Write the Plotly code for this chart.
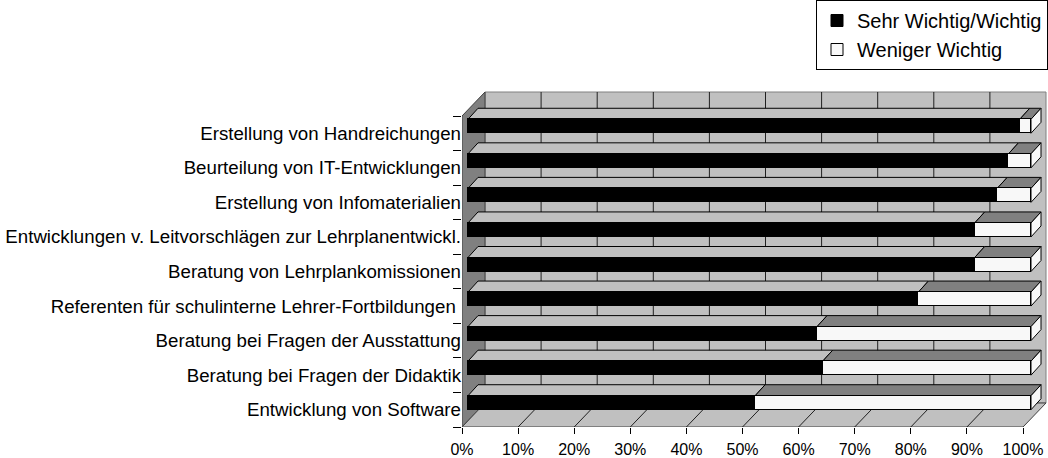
import plotly.graph_objects as go

# ---------------- data (top to bottom as displayed) ----------------
categories = [
    "Erstellung von Handreichungen",
    "Beurteilung von IT-Entwicklungen",
    "Erstellung von Infomaterialien",
    "Entwicklungen v. Leitvorschlägen zur Lehrplanentwickl.",
    "Beratung von Lehrplankomissionen",
    "Referenten für schulinterne Lehrer-Fortbildungen\u00a0",
    "Beratung bei Fragen der Ausstattung",
    "Beratung bei Fragen der Didaktik",
    "Entwicklung von Software",
]
sehr_wichtig = [98, 96, 94, 90, 90, 80, 62, 63, 51]
weniger_wichtig = [2, 4, 6, 10, 10, 20, 38, 37, 49]
series_names = ["Sehr Wichtig/Wichtig", "Weniger Wichtig"]
tick_values = [0, 10, 20, 30, 40, 50, 60, 70, 80, 90, 100]
tick_labels = ["0%", "10%", "20%", "30%", "40%", "50%", "60%", "70%", "80%", "90%", "100%"]

# ---------------- geometry / style ----------------
W, H = 1048, 458
L, R, T, B = 462, 1048, 88, 427
FONT = "Liberation Sans, Arial, sans-serif"
n = len(categories)
floor_px = 5.61          # px per percent on the floor front edge
bar_px = 5.63            # px per percent on the bar front faces
bar_x0_px = 468
cat_px = (B - 116) / n   # px per category
x_range = [0, (R - L) / floor_px]
x2_range = [(L - bar_x0_px) / bar_px, (R - bar_x0_px) / bar_px]
y_range = [-0.5, n - 0.5 + (116 - T) / cat_px]
wall_dx = 23 / floor_px
wall_dy = 24 / cat_px
bar_dx = 10 / bar_px
bar_dy = 11 / cat_px
bar_w = 14 / cat_px

order = list(reversed(categories))  # bottom-first for the category axis
total = [a + b for a, b in zip(sehr_wichtig, weniger_wichtig)]

shapes = []
lo, hi = -0.5, n - 0.5
# back wall
shapes.append(dict(type="rect", xref="x", yref="y", x0=wall_dx, x1=100 + wall_dx,
                   y0=lo + wall_dy, y1=hi + wall_dy, fillcolor="#c0c0c0",
                   line=dict(color="#808080", width=1), layer="below"))
# left wall
shapes.append(dict(type="path", xref="x", yref="y",
                   path=f"M0,{lo} L0,{hi} L{wall_dx},{hi + wall_dy} L{wall_dx},{lo + wall_dy} Z",
                   fillcolor="#808080", line=dict(color="#404040", width=1), layer="below"))
# floor
shapes.append(dict(type="path", xref="x", yref="y",
                   path=f"M0,{lo} L100,{lo} L{100 + wall_dx},{lo + wall_dy} L{wall_dx},{lo + wall_dy} Z",
                   fillcolor="#c0c0c0", line=dict(color="#404040", width=1), layer="below"))
# gridlines on back wall and floor
for v in tick_values[1:-1]:
    shapes.append(dict(type="line", xref="x", yref="y", x0=v + wall_dx, x1=v + wall_dx,
                       y0=lo + wall_dy, y1=hi + wall_dy, line=dict(color="#202020", width=1),
                       layer="below"))
for v in tick_values[1:-1]:
    shapes.append(dict(type="line", xref="x", yref="y", x0=v, x1=v + wall_dx,
                       y0=lo, y1=lo + wall_dy, line=dict(color="#202020", width=1),
                       layer="below"))

# 3D faces of the bars (computed from the data)
for i, cat in enumerate(categories):
    j = order.index(cat)
    v = sehr_wichtig[i]
    t = total[i]
    yt = j + bar_w
    shapes.append(dict(type="path", xref="x2", yref="y",
                       path=f"M0,{yt} L{v},{yt} L{v + bar_dx},{yt + bar_dy} L{bar_dx},{yt + bar_dy} Z",
                       fillcolor="#c0c0c0", line=dict(color="black", width=1), layer="below"))
    shapes.append(dict(type="path", xref="x2", yref="y",
                       path=f"M{v},{yt} L{t},{yt} L{t + bar_dx},{yt + bar_dy} L{v + bar_dx},{yt + bar_dy} Z",
                       fillcolor="#808080", line=dict(color="black", width=1), layer="below"))
    shapes.append(dict(type="path", xref="x2", yref="y",
                       path=f"M{t},{j} L{t},{yt} L{t + bar_dx},{yt + bar_dy} L{t + bar_dx},{j + bar_dy} Z",
                       fillcolor="#f8f8f8", line=dict(color="black", width=1), layer="below"))

fig = go.Figure()
fig.add_trace(go.Bar(name=series_names[0], y=categories, x=sehr_wichtig, orientation="h",
                     xaxis="x2", yaxis="y", width=bar_w, offset=0,
                     marker=dict(color="#000000", line=dict(color="black", width=1))))
fig.add_trace(go.Bar(name=series_names[1], y=categories, x=weniger_wichtig, orientation="h",
                     xaxis="x2", yaxis="y", width=bar_w, offset=0,
                     marker=dict(color="#f8f8f8", line=dict(color="black", width=1))))
# helper traces so that the floor axis and the tick axis are drawn
fig.add_trace(go.Scatter(x=[0] * n, y=categories, xaxis="x", yaxis="y", mode="markers",
                         marker=dict(opacity=0), hoverinfo="skip", showlegend=False))
fig.add_trace(go.Scatter(x=[0] * n, y=categories, xaxis="x", yaxis="y2", mode="markers",
                         marker=dict(opacity=0), hoverinfo="skip", showlegend=False))

fig.update_layout(
    width=W, height=H,
    margin=dict(l=L, r=W - R, t=T, b=H - B, pad=0),
    paper_bgcolor="white", plot_bgcolor="rgba(0,0,0,0)",
    barmode="stack", bargap=0,
    font=dict(family=FONT, color="black"),
    shapes=shapes,
    showlegend=True,
    legend=dict(x=1, xanchor="right", y=1 + T / (B - T), yanchor="top",
                traceorder="normal", bgcolor="white", bordercolor="black", borderwidth=1,
                font=dict(size=20, family=FONT), itemwidth=30, tracegroupgap=0),
    xaxis=dict(range=x_range, tickvals=tick_values, ticktext=tick_labels, ticks="outside",
               ticklen=6, tickcolor="black", showgrid=False, zeroline=False, showline=False,
               tickfont=dict(size=16), ticklabelstandoff=2, fixedrange=True),
    xaxis2=dict(range=x2_range, overlaying="x", visible=False, fixedrange=True),
    yaxis=dict(type="category", categoryorder="array", categoryarray=order, range=y_range,
               ticks="", showgrid=False, zeroline=False, showline=False,
               tickfont=dict(size=18.7), fixedrange=True),
    yaxis2=dict(type="category", categoryorder="array", categoryarray=order, range=y_range,
                overlaying="y", side="left", tickson="boundaries", ticks="outside", ticklen=8,
                tickcolor="black", showticklabels=False, showgrid=False, zeroline=False,
                showline=False, fixedrange=True),
)

fig.write_html("out.html", config={"displayModeBar": False},
               post_script="document.body.style.margin='0';document.body.style.padding='0';")
